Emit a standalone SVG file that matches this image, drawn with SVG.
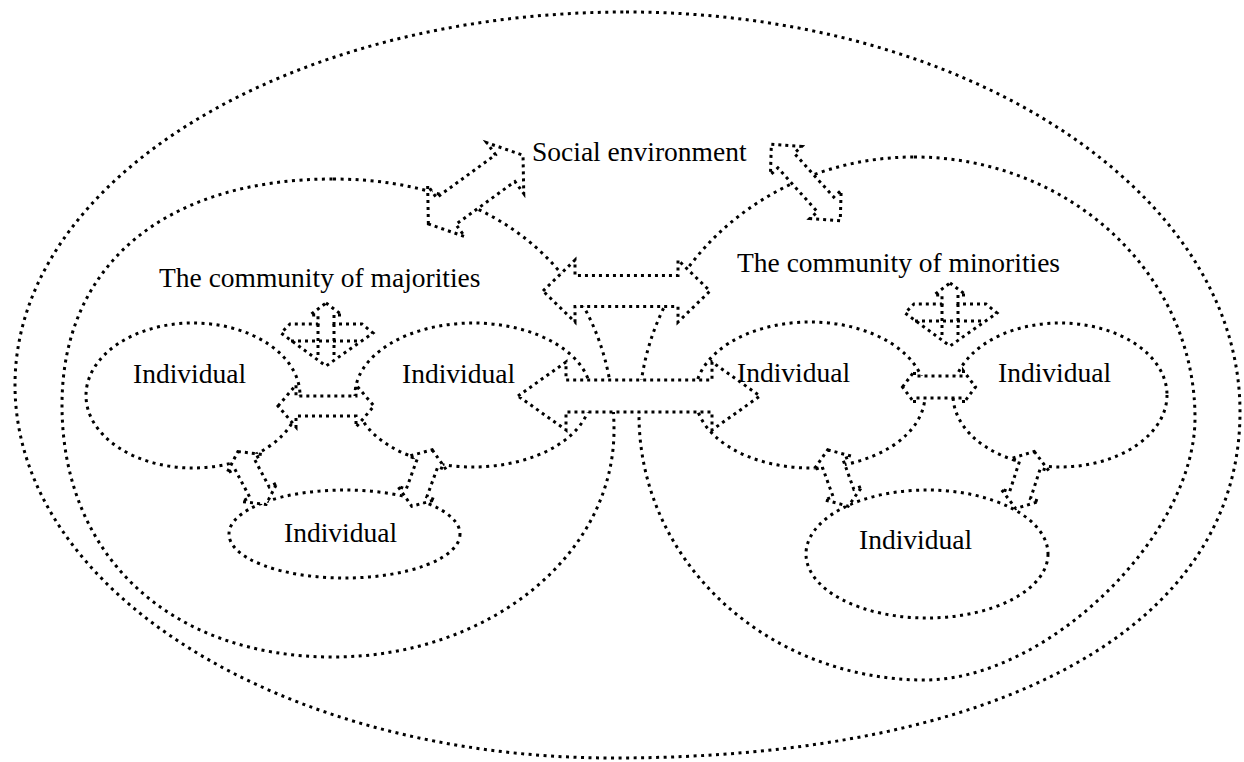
<svg xmlns="http://www.w3.org/2000/svg" width="1244" height="762" viewBox="0 0 1244 762">
<style>
.d{fill:none;stroke:#000;stroke-width:3;stroke-dasharray:3 4.5}
.i{fill:none;stroke:#000;stroke-width:3;stroke-dasharray:3 4.5}
.a{fill:#fff;stroke:#000;stroke-width:3;stroke-dasharray:3 4}
.q{fill:none;stroke:#000;stroke-width:3;stroke-dasharray:3 4}
text{font-family:"Liberation Serif","Times New Roman",serif;font-size:27.5px;fill:#000}
</style>
<defs>
<polygon id="diag" points="-30,0 -16,-20 -16,-11 16,-11 16,-20 30,0 16,20 16,11 -16,11 -16,20"/>
<g id="quad">
<path d="M0,0 L16,12 L8,12 L8,21 L36,21 L47,30 L0,63 L-45,30 L-36,21 L-8,21 L-8,12 L-16,12 Z" fill="#fff"/>
<path d="M-8,21 V56 M8,21 V56 M-35,38 H35"/>
</g>
</defs>
<g id="social-environment">
<path class="d" d="M626,12 C965,12 1240,191 1240,412 C1240,626.5 1001.7,758 613,758 C282.7,758 15,591 15,385 C15,179 288.5,12 626,12 Z"/>
<text x="532" y="161">Social environment</text>
</g>
<g id="community-majorities">
<path class="d" d="M333,179 C501.6,179 614,279.4 614,430 C614,555.4 488.2,657 333,657 C170.4,657 62,556.2 62,405 C62,264.9 165,179 333,179 Z"/>
<text x="159" y="287">The community of majorities</text>
</g>
<g id="community-minorities">
<path class="d" d="M914,157 C1069.2,157 1195,273.9 1195,418 C1195,535.9 1046.5,680 925,680 C767,680 639,561.4 639,415 C639,272.5 762,157 914,157 Z"/>
<text x="737" y="272">The community of minorities</text>
</g>
<g id="maj-individual-1"><ellipse class="i" cx="193" cy="395.5" rx="107" ry="72.5"/><text x="133" y="383">Individual</text></g>
<g id="maj-individual-2"><ellipse class="i" cx="473" cy="395" rx="118" ry="72"/><text x="402" y="383">Individual</text></g>
<g id="maj-individual-3"><ellipse class="i" cx="344.5" cy="534" rx="115.5" ry="44"/><text x="284" y="542">Individual</text></g>
<g id="min-individual-1"><ellipse class="i" cx="810" cy="395" rx="115" ry="73"/><text x="737" y="382">Individual</text></g>
<g id="min-individual-2"><ellipse class="i" cx="1060" cy="395" rx="107" ry="72"/><text x="998" y="382">Individual</text></g>
<g id="min-individual-3"><ellipse class="i" cx="927" cy="554" rx="121" ry="64"/><text x="859" y="549">Individual</text></g>
<g id="connectors">
<polygon class="a" transform="translate(475.7 189.6) rotate(-36)" points="-58.5,0 -36.5,-31.5 -36.5,-16.5 36.5,-16.5 36.5,-31.5 58.5,0 36.5,31.5 36.5,16.5 -36.5,16.5 -36.5,31.5"/>
<polygon class="a" transform="translate(805.8 182.5) rotate(48)" points="-51.5,0 -29.5,-21 -29.5,-11 29.5,-11 29.5,-21 51.5,0 29.5,21 29.5,11 -29.5,11 -29.5,21"/>
<polygon class="a" points="543,291 575,260 575,275.5 678,275.5 678,260 710,291 678,322 678,306.5 575,306.5 575,322"/>
<polygon class="a" points="518,396 566,362 566,380 712,380 712,362 760,396 712,430 712,412 566,412 566,430"/>
<polygon class="a" points="278,406 296,385 296,396 356,396 356,385 374,406 356,427 356,416 296,416 296,427"/>
<polygon class="a" points="902.5,387 914.5,371 914.5,376 963.5,376 963.5,371 975.5,387 963.5,403 963.5,398 914.5,398 914.5,403"/>
<use href="#diag" class="a" transform="translate(252 478) rotate(62)"/>
<use href="#diag" class="a" transform="translate(422 478) rotate(110)"/>
<use href="#diag" class="a" transform="translate(838 478) rotate(70)"/>
<use href="#diag" class="a" transform="translate(1025 480) rotate(108)"/>
<use href="#quad" class="q" transform="translate(326 303)"/>
<use href="#quad" class="q" transform="translate(950 283)"/>
</g>
</svg>
